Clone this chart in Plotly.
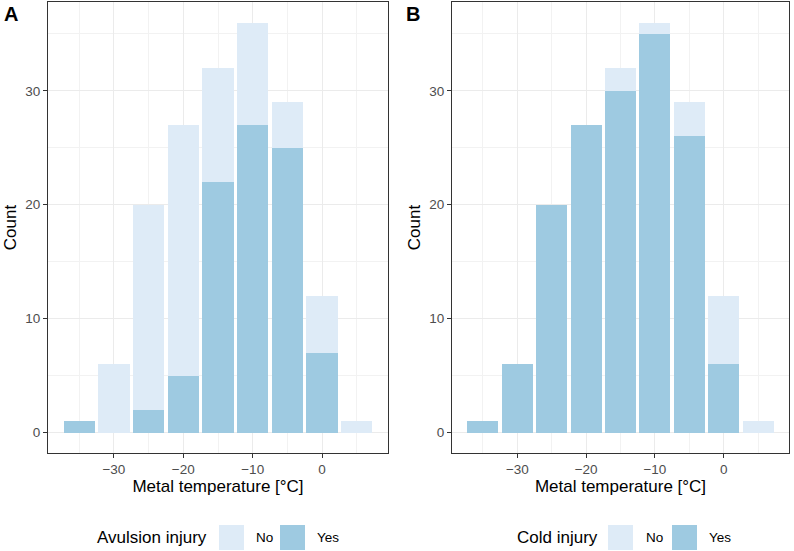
import plotly.graph_objects as go

# Data
temp_bins = [-35, -30, -25, -20, -15, -10, -5, 0, 5]
avulsion_yes = [1, 0, 2, 5, 22, 27, 25, 7, 0]
avulsion_no = [0, 6, 18, 22, 10, 9, 4, 5, 1]
cold_yes = [1, 6, 20, 27, 30, 35, 26, 6, 0]
cold_no = [0, 0, 0, 0, 2, 1, 3, 6, 1]

x_ticks = [-30, -20, -10, 0]
y_ticks = [0, 10, 20, 30]
legend_levels = ["No", "Yes"]

C_NO = "#deebf7"
C_YES = "#9ecae1"
FONT = "Liberation Sans, Arial, sans-serif"
W, H = 794, 551

fig = go.Figure()


def add_panel_stacked(yes, no, xa, ya):
    fig.add_trace(go.Bar(x=temp_bins, y=yes, name="Yes", marker_color=C_YES,
                         marker_line_width=0, width=4.5, xaxis=xa, yaxis=ya,
                         showlegend=False))
    fig.add_trace(go.Bar(x=temp_bins, y=no, base=yes, name="No", marker_color=C_NO,
                         marker_line_width=0, width=4.5, xaxis=xa, yaxis=ya,
                         showlegend=False))


add_panel_stacked(avulsion_yes, avulsion_no, "x", "y")
add_panel_stacked(cold_yes, cold_no, "x2", "y2")

xdomA = [48 / W, 388 / W]
xdomB = [452 / W, 789 / W]
ydom = [1 - 453 / H, 1 - 2 / H]

axis_common = dict(
    showline=True, mirror=True, linecolor="#333333", linewidth=1,
    ticks="outside", ticklen=4, tickcolor="#333333",
    showgrid=True, gridcolor="#ebebeb", gridwidth=1, zeroline=False,
    tickfont=dict(family=FONT, size=13.5, color="#4d4d4d"),
)

xa = dict(axis_common, range=[-39.5, 9.5], tickvals=x_ticks,
          minor=dict(tickvals=[-35, -25, -15, -5, 5], showgrid=True,
                     gridcolor="#f2f2f2", gridwidth=1, ticks=""),
          title=dict(text="Metal temperature [°C]", font=dict(family=FONT, size=17, color="black"),
                     standoff=2))
ya = dict(axis_common, range=[-1.8, 37.8], tickvals=y_ticks,
          minor=dict(tickvals=[5, 15, 25, 35], showgrid=True,
                     gridcolor="#f2f2f2", gridwidth=1, ticks=""),
          title=dict(text="Count", font=dict(family=FONT, size=17, color="black"),
                     standoff=4))

shapes = []
annotations = [
    dict(text="<b>A</b>", x=2 / W, y=1 - 1 / H, xref="paper", yref="paper",
         xanchor="left", yanchor="top", showarrow=False, font=dict(size=20, family=FONT, color="black")),
    dict(text="<b>B</b>", x=404 / W, y=1 - 1 / H, xref="paper", yref="paper",
         xanchor="left", yanchor="top", showarrow=False, font=dict(size=20, family=FONT, color="black")),
]

# Manual legends (ggplot-style keys)
legend_specs = [
    ("Avulsion injury", 95, [219, 280], [254, 315]),
    ("Cold injury", 515, [608, 672], [644, 707]),
]
key_colors = [C_NO, C_YES]
box_top, box_bot = 525, 550
ymid = 1 - (box_top + box_bot) / 2 / H
for title, tx, box_x, lab_x in legend_specs:
    annotations.append(dict(text=title, x=tx / W, y=ymid, xref="paper", yref="paper",
                            xanchor="left", yanchor="middle", showarrow=False,
                            font=dict(size=17, family=FONT, color="black")))
    for lvl, bx, lx, col in zip(legend_levels, box_x, lab_x, key_colors):
        shapes.append(dict(type="rect", xref="paper", yref="paper",
                           x0=bx / W, x1=(bx + 25) / W,
                           y0=1 - box_bot / H, y1=1 - box_top / H,
                           fillcolor=col, line=dict(width=0)))
        annotations.append(dict(text=lvl, x=lx / W, y=ymid, xref="paper", yref="paper",
                                xanchor="left", yanchor="middle", showarrow=False,
                                font=dict(size=13.5, family=FONT, color="black")))

fig.update_layout(
    width=W, height=H, margin=dict(l=0, r=0, t=0, b=0),
    paper_bgcolor="white", plot_bgcolor="white",
    barmode="overlay", bargap=0, showlegend=False,
    font=dict(family=FONT, color="black"),
    xaxis=dict(xa, domain=xdomA, anchor="y"),
    yaxis=dict(ya, domain=ydom, anchor="x"),
    xaxis2=dict(xa, domain=xdomB, anchor="y2"),
    yaxis2=dict(ya, domain=ydom, anchor="x2"),
    shapes=shapes,
    annotations=annotations,
)

fig.write_html("out.html")
